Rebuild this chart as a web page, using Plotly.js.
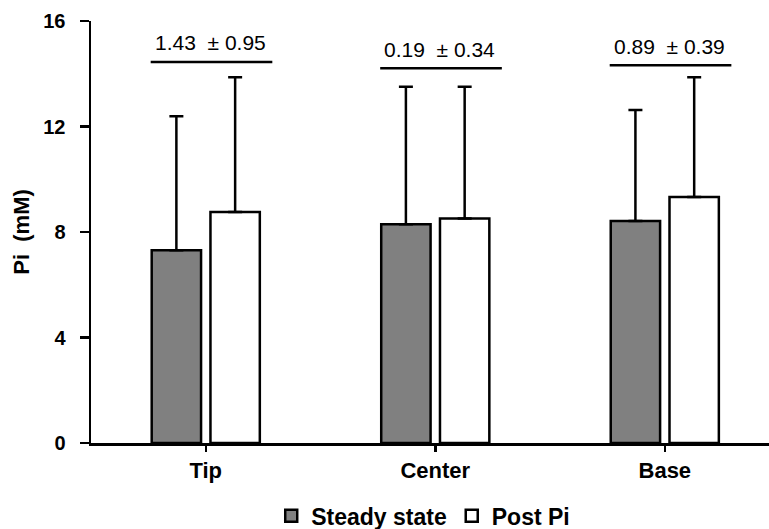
<!DOCTYPE html>
<html>
<head>
<meta charset="utf-8">
<script src="https://cdn.plot.ly/plotly-3.0.1.min.js"></script>
<style>
  html, body { margin: 0; padding: 0; background: #fff; }
  #chart { width: 769px; height: 529px; }
</style>
</head>
<body>
<div id="chart"></div>
<script>
// ---- data ----
const categories = ['Tip', 'Center', 'Base'];
const steadyState = [7.31, 8.29, 8.42];
const postPi = [8.76, 8.51, 9.33];
const steadyErr = [5.08, 5.22, 4.21];
const postPiErr = [5.11, 5.00, 4.54];
const diffLabels = ['1.43\u00a0\u00a0\u00b1\u00a00.95', '0.19\u00a0\u00a0\u00b1\u00a00.34', '0.89\u00a0\u00a0\u00b1\u00a00.39'];
const bracketLevel = [14.45, 14.21, 14.32];
const seriesNames = ['Steady state', 'Post Pi'];

const FONT = 'Arial, "Liberation Sans", Helvetica, sans-serif';
const zeros = categories.map(() => 0);

const traces = [
  {
    type: 'bar', name: seriesNames[0], x: categories, y: steadyState,
    marker: { color: '#808080', line: { color: '#000', width: 2.5 } },
    error_y: { type: 'data', symmetric: false, array: steadyErr, arrayminus: zeros,
               color: '#000', thickness: 2.5, width: 7 }
  },
  {
    type: 'bar', name: seriesNames[1], x: categories, y: postPi,
    marker: { color: '#ffffff', line: { color: '#000', width: 2.5 } },
    error_y: { type: 'data', symmetric: false, array: postPiErr, arrayminus: zeros,
               color: '#000', thickness: 2.5, width: 7 }
  }
];

const shapes = categories.map((c, i) => ({
  type: 'line', xref: 'x', yref: 'y',
  x0: i - 0.24, x1: i + 0.29, y0: bracketLevel[i], y1: bracketLevel[i],
  line: { color: '#000', width: 2.5 }
}));

const annotations = categories.map((c, i) => ({
  xref: 'x', yref: 'y', x: i + 0.02, y: bracketLevel[i],
  text: diffLabels[i], showarrow: false, yanchor: 'middle', xanchor: 'center', yshift: 19,
  font: { family: FONT, size: 21, color: '#000' }
}));

const layout = {
  width: 769, height: 529,
  margin: { l: 91, r: 0, t: 21, b: 86, pad: 0 },
  paper_bgcolor: '#fff', plot_bgcolor: '#fff',
  barmode: 'group', bargap: 0.488, bargroupgap: 0.16,
  showlegend: true,
  legend: {
    orientation: 'h', xref: 'paper', x: 0.49, xanchor: 'center',
    yref: 'container', y: 0.025, yanchor: 'middle',
    font: { family: FONT, size: 23, weight: 'bold', color: '#000' },
    itemwidth: 30, traceorder: 'normal', tracegroupgap: 0
  },
  xaxis: {
    type: 'category', range: [-0.5, 2.454], autorange: false,
    showline: true, linecolor: '#000', linewidth: 2.5,
    ticks: 'outside', ticklen: 6, tickwidth: 2.5, tickcolor: '#000',
    tickfont: { family: FONT, size: 22, weight: 'bold', color: '#000' },
    showgrid: false, zeroline: false
  },
  yaxis: {
    range: [0, 16], autorange: false, dtick: 4, tick0: 0,
    showline: true, linecolor: '#000', linewidth: 2.5,
    ticks: 'outside', ticklen: 9, tickwidth: 2.5, tickcolor: '#000',
    ticklabelstandoff: 10,
    tickfont: { family: FONT, size: 20, weight: 'bold', color: '#000' },
    showgrid: false, zeroline: false,
    title: { text: 'Pi\u00a0 (mM)', standoff: 8, font: { family: FONT, size: 22, weight: 'bold', color: '#000' } }
  },
  shapes: shapes,
  annotations: annotations,
  hovermode: false
};

Plotly.newPlot('chart', traces, layout, { displayModeBar: false, staticPlot: true });
</script>
</body>
</html>
